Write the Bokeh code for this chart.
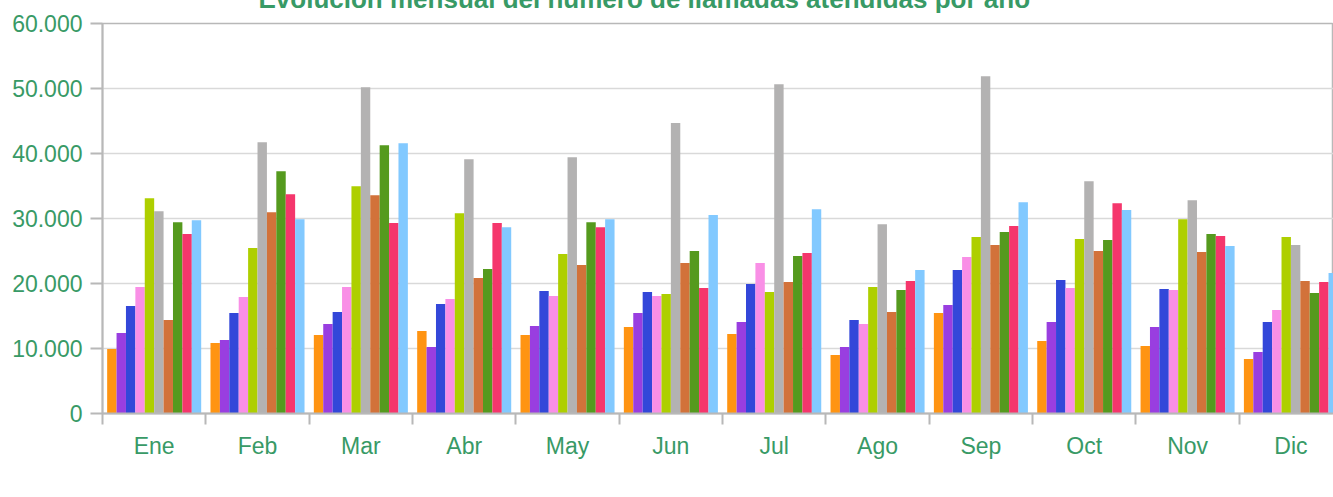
from bokeh.plotting import figure
from bokeh.models import Range1d, FixedTicker, ColumnDataSource, Legend, LegendItem
from bokeh.transform import dodge
from bokeh.embed import file_html
from bokeh.resources import INLINE

months = ["Ene", "Feb", "Mar", "Abr", "May", "Jun", "Jul", "Ago", "Sep", "Oct", "Nov", "Dic"]
years = ["2016", "2017", "2018", "2019", "2020", "2021", "2022", "2023", "2024", "2025"]

v2016 = [9930, 10850, 12080, 12700, 12080, 13310, 12240, 9010, 15460, 11160, 10390, 8400]
v2017 = [12390, 11320, 13770, 10240, 13470, 15460, 14080, 10240, 16690, 14080, 13310, 9470]
v2018 = [16540, 15460, 15620, 16850, 18840, 18690, 19920, 14390, 22070, 20530, 19150, 14080]
v2019 = [19460, 17920, 19460, 17610, 18070, 18070, 23140, 13770, 24070, 19300, 19000, 15920]
v2020 = [33130, 25450, 34970, 30820, 24530, 18380, 18690, 19460, 27140, 26830, 29900, 27140]
v2021 = [31130, 41730, 50200, 39120, 39430, 44700, 50650, 29130, 51900, 35740, 32820, 25910]
v2022 = [14390, 30980, 33590, 20840, 22840, 23140, 20230, 15620, 25910, 24990, 24830, 20380]
v2023 = [29440, 37280, 41270, 22220, 29440, 24990, 24220, 19000, 27910, 26680, 27600, 18540]
v2024 = [27600, 33740, 29290, 29290, 28670, 19300, 24680, 20380, 28830, 32360, 27290, 20230]
v2025 = [29750, 29900, 41580, 28670, 29900, 30520, 31440, 22070, 32510, 31290, 25760, 21610]

y_ticks = [0, 10000, 20000, 30000, 40000, 50000, 60000]
y_tick_labels = ["0", "10.000", "20.000", "30.000", "40.000", "50.000", "60.000"]

colors = ["#FF9412", "#993EE0", "#3347D9", "#F98FE6", "#AECF00",
          "#B3B2B2", "#D2723A", "#559A1E", "#F5366C", "#82C9FF"]

title_text = "Evolución mensual del número de llamadas atendidas por año"
GREEN = "#389A66"
AXIS_GRAY = "#b8b8b8"
FONT = "Liberation Sans"

series = [v2016, v2017, v2018, v2019, v2020, v2021, v2022, v2023, v2024, v2025]
centers = [i + 0.5 for i in range(len(months))]
data = {"x": centers}
for y, vals in zip(years, series):
    data["y" + y] = vals
src = ColumnDataSource(data)

p = figure(
    frame_width=1231, frame_height=390, width=1333, height=530,
    x_range=Range1d(0, 11.912), y_range=Range1d(0, 60000),
    output_backend="svg", toolbar_location=None,
    min_border_left=102, min_border_right=0, min_border_top=45, min_border_bottom=0,
    margin=(-29, 0, 0, 0),
)
p.title.text = title_text
p.title.align = "left"
p.title.offset = 156
p.title.standoff = 20
p.title.text_font = FONT
p.title.text_font_style = "bold"
p.title.text_font_size = "26px"
p.title.text_color = GREEN

n = len(years)
bw = 0.091
renderers = []
for i, y in enumerate(years):
    off = (i - (n - 1) / 2) * bw
    r = p.vbar(x=dodge("x", off), top="y" + y, width=bw, source=src,
               fill_color=colors[i], line_color=None)
    renderers.append(r)

# x axis
xt = FixedTicker(ticks=centers, minor_ticks=list(range(len(months) + 1)))
p.xaxis.ticker = xt
p.xaxis.major_label_overrides = {c: m for c, m in zip(centers, months)}
p.xaxis.major_tick_line_color = None
p.xaxis.major_tick_out = 11
p.xaxis.major_tick_in = 0
p.xaxis.minor_tick_out = 11
p.xaxis.minor_tick_in = 0
p.xaxis.minor_tick_line_color = AXIS_GRAY
p.xaxis.minor_tick_line_width = 2
p.xaxis.axis_line_color = AXIS_GRAY
p.xaxis.axis_line_width = 2
p.xaxis.major_label_standoff = 8
p.xaxis.major_label_text_font = FONT
p.xaxis.major_label_text_font_size = "23px"
p.xaxis.major_label_text_color = GREEN
p.xgrid.visible = False

# y axis
yt = FixedTicker(ticks=y_ticks, minor_ticks=[])
p.yaxis.ticker = yt
p.yaxis.major_label_overrides = {t: l for t, l in zip(y_ticks, y_tick_labels)}
p.yaxis.major_tick_out = 12
p.yaxis.major_tick_in = 0
p.yaxis.major_tick_line_color = AXIS_GRAY
p.yaxis.major_tick_line_width = 2
p.yaxis.minor_tick_line_color = None
p.yaxis.axis_line_color = AXIS_GRAY
p.yaxis.axis_line_width = 2
p.yaxis.major_label_standoff = 8
p.yaxis.major_label_text_font = FONT
p.yaxis.major_label_text_font_size = "23px"
p.yaxis.major_label_text_color = GREEN
p.ygrid.ticker = yt
p.ygrid.grid_line_color = "#d9d9d9"
p.ygrid.grid_line_width = 1.5

p.outline_line_color = AXIS_GRAY
p.outline_line_width = 1.5
p.background_fill_color = "white"
p.border_fill_color = "white"

legend = Legend(
    items=[LegendItem(label=y, renderers=[r]) for y, r in zip(years, renderers)],
    orientation="horizontal", location="center",
    border_line_color=None, background_fill_alpha=0,
    label_text_font=FONT, label_text_font_size="23px", label_text_color=GREEN,
    glyph_width=14, glyph_height=14, label_standoff=8, spacing=26,
    label_height=26, padding=0, margin=0,
)
p.add_layout(legend, "below")

open("out.html", "w").write(file_html(p, INLINE))
